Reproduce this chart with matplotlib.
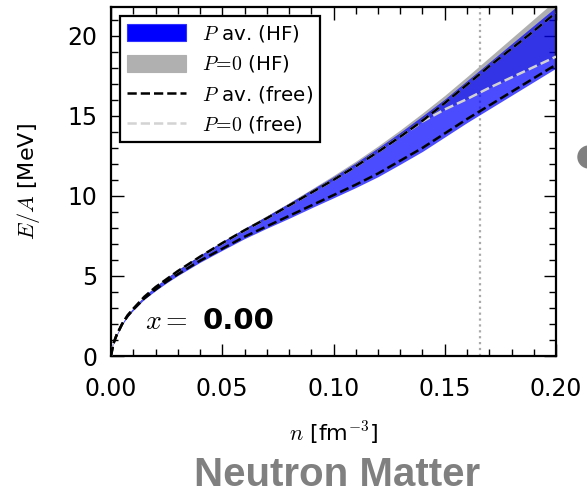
import matplotlib
matplotlib.use("Agg")
import matplotlib.pyplot as plt
from matplotlib.patches import Patch, Circle
from matplotlib.lines import Line2D
from matplotlib.ticker import MultipleLocator

plt.rcParams['mathtext.fontset'] = 'cm'
plt.rcParams['font.family'] = ['DejaVu Sans']

# density grid [fm^-3]
n = [0.0, 0.001, 0.0025, 0.005, 0.0075, 0.01, 0.015, 0.02, 0.025, 0.03, 0.04, 0.05,
     0.06, 0.07, 0.08, 0.09, 0.10, 0.11, 0.12, 0.13, 0.14, 0.15, 0.16, 0.17, 0.18,
     0.19, 0.20]

# P av. (HF) band
hf_pav_upper = [0.0, 0.8, 1.35, 2.05, 2.6, 3.0, 3.75, 4.35, 4.88, 5.38, 6.3, 7.15,
                7.97, 8.75, 9.55, 10.38, 11.2, 12.07, 13.0, 13.97, 15.0, 16.05, 17.2,
                18.35, 19.5, 20.65, 21.8]
hf_pav_lower = [0.0, 0.7, 1.25, 1.95, 2.45, 2.85, 3.55, 4.08, 4.57, 5.02, 5.85, 6.6,
                7.33, 7.98, 8.6, 9.25, 9.88, 10.52, 11.2, 11.98, 12.78, 13.68, 14.58,
                15.43, 16.28, 17.13, 17.98]

# P=0 (HF) band
hf_p0_upper = [0.0, 0.8, 1.35, 2.05, 2.6, 3.0, 3.75, 4.35, 4.88, 5.38, 6.3, 7.15,
               7.97, 8.75, 9.57, 10.42, 11.28, 12.17, 13.12, 14.12, 15.18, 16.28, 17.45,
               18.65, 19.85, 21.05, 22.25]
hf_p0_lower = [0.0, 0.75, 1.3, 2.0, 2.55, 2.95, 3.7, 4.3, 4.8, 5.3, 6.2, 7.05,
               7.85, 8.6, 9.4, 10.2, 11.0, 11.85, 12.75, 13.7, 14.65, 15.4, 16.05,
               16.75, 17.4, 18.05, 18.7]

# P av. (free) lines
free_pav_upper = [0.0, 0.75, 1.3, 2.0, 2.55, 2.95, 3.7, 4.3, 4.8, 5.3, 6.2, 7.05,
                  7.85, 8.6, 9.4, 10.2, 11.0, 11.85, 12.75, 13.7, 14.7, 15.8, 16.95,
                  18.1, 19.2, 20.3, 21.45]
free_pav_lower = [0.0, 0.75, 1.3, 2.0, 2.5, 2.9, 3.6, 4.15, 4.65, 5.1, 5.95, 6.7,
                  7.45, 8.1, 8.75, 9.4, 10.05, 10.7, 11.4, 12.2, 13.0, 13.9, 14.8,
                  15.65, 16.5, 17.35, 18.2]

# P=0 (free) lines
free_p0_upper = [0.0, 0.75, 1.3, 2.0, 2.55, 2.95, 3.7, 4.3, 4.8, 5.3, 6.2, 7.05,
                 7.85, 8.6, 9.4, 10.2, 11.0, 11.85, 12.75, 13.7, 14.7, 15.8, 16.95,
                 18.1, 19.2, 20.3, 21.45]
free_p0_lower = [0.0, 0.75, 1.3, 2.0, 2.55, 2.95, 3.7, 4.3, 4.8, 5.3, 6.2, 7.05,
                 7.85, 8.6, 9.4, 10.2, 11.0, 11.85, 12.75, 13.7, 14.65, 15.4, 16.05,
                 16.75, 17.4, 18.05, 18.7]

n_sat = 0.166

fig = plt.figure(figsize=(5.87, 4.93), dpi=100)
ax = fig.add_axes([111/587, 137/493, 445/587, 349/493])

ax.fill_between(n, hf_p0_lower, hf_p0_upper, color='#b0b0b0', lw=0, zorder=1)
ax.fill_between(n, hf_pav_lower, hf_pav_upper, color='#0000ff', alpha=0.7, lw=0, zorder=2)

ax.plot(n, free_p0_upper, color='#d3d3d3', ls='--', lw=1.8, zorder=3)
ax.plot(n, free_p0_lower, color='#d3d3d3', ls='--', lw=1.8, zorder=3)
ax.plot(n, free_pav_upper, color='black', ls='--', lw=1.8, zorder=4)
ax.plot(n, free_pav_lower, color='black', ls='--', lw=1.8, zorder=4)

ax.axvline(n_sat, color='#aaaaaa', ls=':', lw=1.6, zorder=0)

ax.set_xlim(0, 0.2)
ax.set_ylim(0, 21.8)
ax.xaxis.set_major_locator(MultipleLocator(0.05))
ax.xaxis.set_minor_locator(MultipleLocator(0.01))
ax.yaxis.set_major_locator(MultipleLocator(5))
ax.yaxis.set_minor_locator(MultipleLocator(1))
ax.set_xticks([0.0, 0.05, 0.10, 0.15, 0.20])
ax.set_xticklabels(['0.00', '0.05', '0.10', '0.15', '0.20'])
ax.tick_params(which='both', direction='in', top=True, right=True, width=1.0)
ax.tick_params(which='major', length=9, labelsize=17)
ax.tick_params(axis='x', which='major', pad=15)
ax.tick_params(axis='y', which='major', pad=10)
ax.tick_params(which='minor', length=5)
for s in ax.spines.values():
    s.set_linewidth(1.6)

ax.set_xlabel(r'$n$ [fm$^{-3}$]', fontsize=16, labelpad=14)
ax.set_ylabel(r'$E/A$ [MeV]', fontsize=16, labelpad=18)

ax.text(0.0153, 2.2, r'$x=$', fontsize=20, ha='left', va='center', zorder=5)
ax.text(0.041, 2.2, '0.00', fontsize=21, fontweight='bold', ha='left', va='center', zorder=5)

handles = [
    Patch(facecolor='#0000ff', edgecolor='#3030ff', lw=0.8),
    Patch(facecolor='#b0b0b0', edgecolor='#b0b0b0', lw=0.8),
    Line2D([], [], color='black', ls='--', lw=1.8),
    Line2D([], [], color='#d3d3d3', ls='--', lw=1.8),
]
labels = [r'$P$ av. (HF)', r'$P\!=\!0$ (HF)', r'$P$ av. (free)', r'$P\!=\!0$ (free)']
leg = ax.legend(handles, labels, loc='upper left', fontsize=14.3, fancybox=False,
                framealpha=1, edgecolor='black', handlelength=3.0, handleheight=0.95,
                labelspacing=0.48, borderaxespad=0.45, borderpad=0.35)
leg.get_frame().set_linewidth(1.6)
leg.set_zorder(10)

fig.text(337/587, 7.5/493, 'Neutron Matter', fontsize=29, fontweight='bold',
         family='Liberation Sans', color='#808080', ha='center', va='baseline')

fig.patches.append(Circle((589, 493 - 157), 11, transform=None, color='#808080', zorder=0))

fig.savefig('out.png', dpi=100)
